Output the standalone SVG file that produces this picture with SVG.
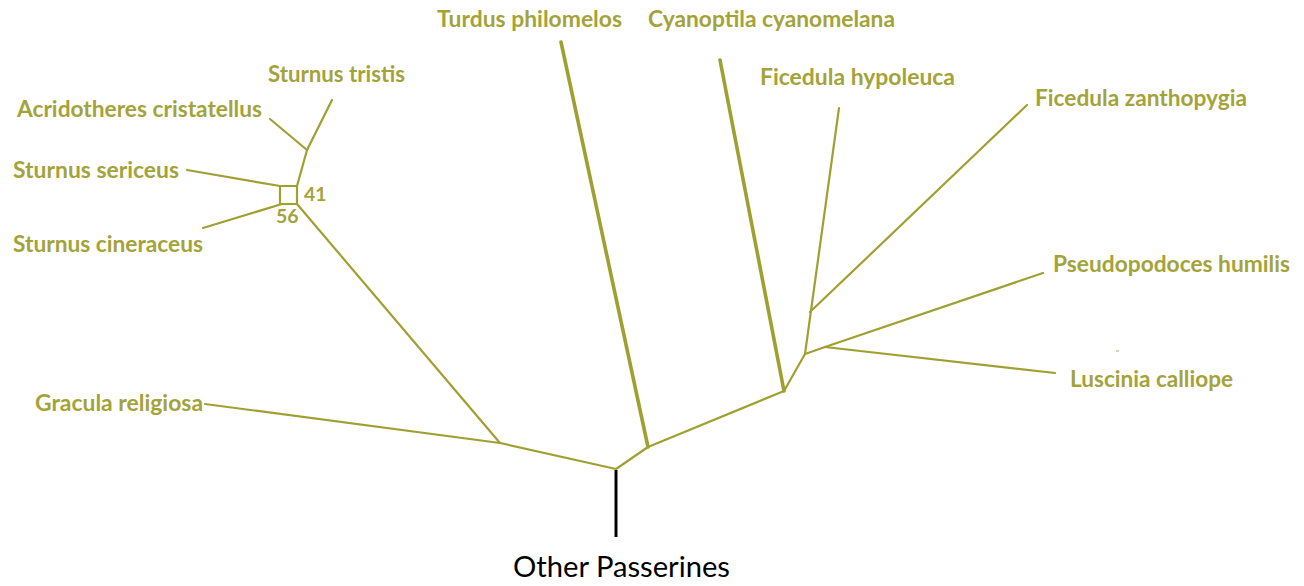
<svg xmlns="http://www.w3.org/2000/svg" width="1304" height="586" viewBox="0 0 1304 586">
<style>
.e{stroke:#a0a032;stroke-width:2.2;fill:none;stroke-linecap:round;stroke-linejoin:round}
.t{stroke-width:3.6}
.l{font-family:Lato,"Open Sans",sans-serif;font-weight:bold;font-size:22.7px;fill:#a3a33a}
.n{font-family:Lato,"Open Sans",sans-serif;font-weight:bold;font-size:19.5px;fill:#a3a33a}
</style>
<rect width="1304" height="586" fill="#fff"/>
<g id="connectors">
<line x1="616" y1="470" x2="616" y2="537" stroke="#000" stroke-width="3"/>
<polyline class="e" points="500,443 616,469 648,447 784,391 805,354 825,347"/>
<line class="e" x1="500" y1="443" x2="205" y2="404"/>
<line class="e" x1="500" y1="443" x2="297" y2="204"/>
<rect class="e" x="280" y="186" width="17" height="18"/>
<line class="e" x1="280" y1="186" x2="187" y2="170"/>
<line class="e" x1="282" y1="204" x2="203" y2="228"/>
<polyline class="e" points="297,186 307,150 332,100"/>
<line class="e" x1="307" y1="150" x2="270" y2="119"/>
<line class="e t" x1="648" y1="447" x2="561" y2="42"/>
<line class="e t" x1="784" y1="391" x2="720" y2="60"/>
<line class="e" x1="805" y1="354" x2="839" y2="108"/>
<line class="e" x1="810" y1="312" x2="1027" y2="105"/>
<line class="e" x1="825" y1="347" x2="1043" y2="273"/>
<line class="e" x1="825" y1="347" x2="1055" y2="373"/>
<line x1="1116" y1="351" x2="1119" y2="351" stroke="#c8c890" stroke-width="1.5"/>
</g>
<g id="n-tristis"><text class="l" x="268" y="82" textLength="137" lengthAdjust="spacingAndGlyphs">Sturnus tristis</text></g>
<g id="n-acrido"><text class="l" x="17" y="117" textLength="245" lengthAdjust="spacingAndGlyphs">Acridotheres cristatellus</text></g>
<g id="n-sericeus"><text class="l" x="13" y="178" textLength="166" lengthAdjust="spacingAndGlyphs">Sturnus sericeus</text></g>
<g id="n-cineraceus"><text class="l" x="13" y="252" textLength="190" lengthAdjust="spacingAndGlyphs">Sturnus cineraceus</text></g>
<g id="n-gracula"><text class="l" x="35" y="411" textLength="168" lengthAdjust="spacingAndGlyphs">Gracula religiosa</text></g>
<g id="n-41"><text class="n" x="304" y="201">41</text></g>
<g id="n-56"><text class="n" x="276" y="223">56</text></g>
<g id="n-turdus"><text class="l" x="437" y="27" textLength="185" lengthAdjust="spacingAndGlyphs">Turdus philomelos</text></g>
<g id="n-cyano"><text class="l" x="648" y="27" textLength="247" lengthAdjust="spacingAndGlyphs">Cyanoptila cyanomelana</text></g>
<g id="n-hypo"><text class="l" x="760" y="85" textLength="195" lengthAdjust="spacingAndGlyphs">Ficedula hypoleuca</text></g>
<g id="n-zantho"><text class="l" x="1035" y="106" textLength="212" lengthAdjust="spacingAndGlyphs">Ficedula zanthopygia</text></g>
<g id="n-pseudo"><text class="l" x="1053" y="272" textLength="237" lengthAdjust="spacingAndGlyphs">Pseudopodoces humilis</text></g>
<g id="n-luscinia"><text class="l" x="1070" y="387" textLength="163" lengthAdjust="spacingAndGlyphs">Luscinia calliope</text></g>
<g id="n-other"><text x="513" y="577" font-family="Lato,'Open Sans',sans-serif" font-size="29" fill="#000" textLength="217" lengthAdjust="spacingAndGlyphs">Other Passerines</text></g>
</svg>
